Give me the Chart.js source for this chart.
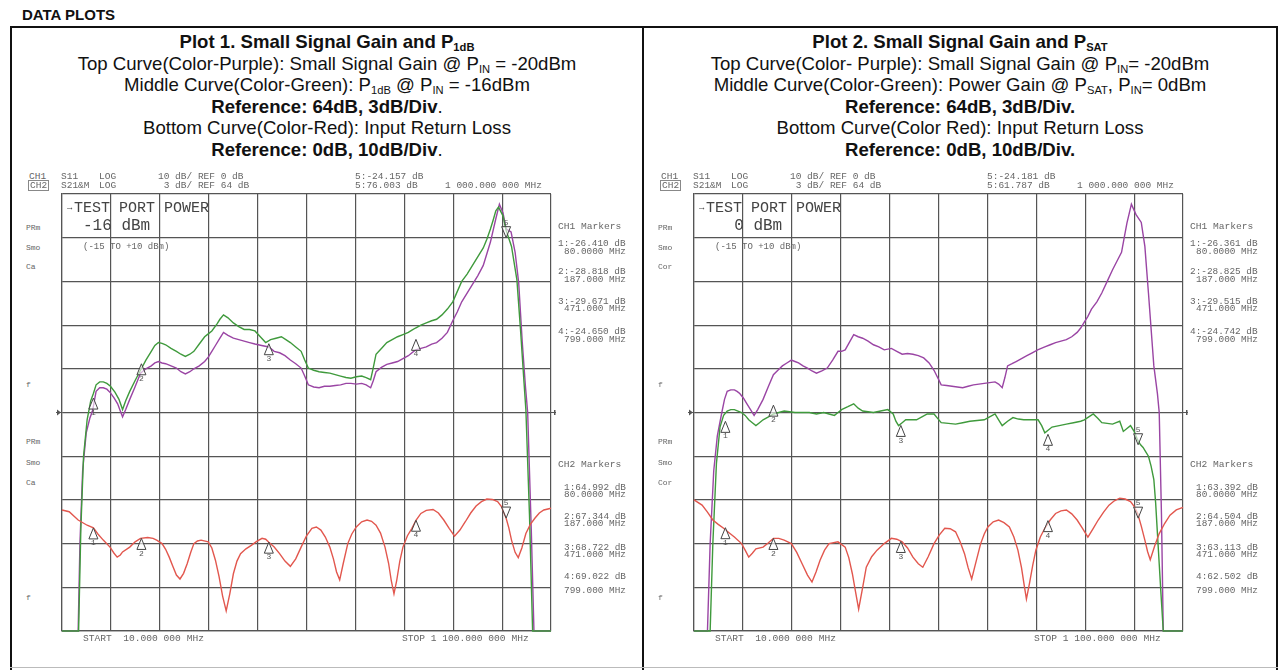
<!DOCTYPE html>
<html lang="en">
<head>
<meta charset="UTF-8" />
<title>Data Plots</title>
<script src="https://cdn.jsdelivr.net/npm/chart.js"></script>
<style>
  body { margin: 0; background: #fff; }
  #page {
    position: relative;
    width: 1280px;
    height: 670px;
    overflow: hidden;
    font-family: 'Liberation Sans', Arial, sans-serif;
    color: #111;
  }
  .abs { position: absolute; white-space: pre; line-height: 1; }
  .mono { font-family: 'Liberation Mono', 'DejaVu Sans Mono', monospace; color: #666; }
  .line { position: absolute; background: #111; }
  .titles {
    position: absolute;
    top: 31px;
    width: 632px;
    text-align: center;
    font-size: 18.6px;
    line-height: 21.5px;
  }
  .titles sub { font-size: 0.6em; line-height: 0; vertical-align: -0.25em; }
  canvas { position: absolute; }
</style>
</head>
<body>
<div id="page">
  <div class="abs" style="left:22px; top:7px; font-size:15px; font-weight:bold;">DATA PLOTS</div>

  <div class="line" style="left:10px; top:26px; width:1268px; height:2px;"></div>
  <div class="line" style="left:10px; top:26px; width:2px; height:644px;"></div>
  <div class="line" style="left:642px; top:26px; width:2px; height:644px;"></div>
  <div class="line" style="left:1276px; top:26px; width:2px; height:644px;"></div>
  <div class="line" style="left:10px; top:667px; width:1268px; height:1px; background:#bbb;"></div>

  <div class="titles" style="left:11px;">
    <b>Plot 1. Small Signal Gain and P<sub>1dB</sub></b><br>
    Top Curve(Color-Purple): Small Signal Gain @ P<sub>IN</sub> = -20dBm<br>
    Middle Curve(Color-Green): P<sub>1dB</sub> @ P<sub>IN</sub> = -16dBm<br>
    <b>Reference: 64dB, 3dB/Div</b>.<br>
    Bottom Curve(Color-Red): Input Return Loss<br>
    <b>Reference: 0dB, 10dB/Div</b>.
  </div>
  <div class="titles" style="left:644px;">
    <b>Plot 2. Small Signal Gain and P<sub>SAT</sub></b><br>
    Top Curve(Color- Purple): Small Signal Gain @ P<sub>IN</sub>= -20dBm<br>
    Middle Curve(Color-Green): Power Gain @ P<sub>SAT</sub>, P<sub>IN</sub>= 0dBm<br>
    <b>Reference: 64dB, 3dB/Div.</b><br>
    Bottom Curve(Color Red): Input Return Loss<br>
    <b>Reference: 0dB, 10dB/Div.</b>
  </div>

  <canvas id="plot1" width="509" height="457" style="left:52px; top:184px;"></canvas>
  <canvas id="plot2" width="509" height="457" style="left:684px; top:184px;"></canvas>
</div>

<script>
// sweep 10 MHz .. 1100 MHz, 10 divisions
var freqStart = 10;
var freqStop = 1100;
var freqStep = 109;
// S21: ref 64 dB at centre, 3 dB/div ; S11: ref 0 dB at centre, 10 dB/div
var gainMin = 49, gainMax = 79, gainStep = 3, gainRef = 64;
var rlMin = -50, rlMax = 50;

var markerFreqs = [80, 187, 471, 799, 1000];
var markerFreqLabels = ["80.0000 MHz", "187.000 MHz", "471.000 MHz", "799.000 MHz"];

var plot1GainMarkers = [64.992, 67.344, 68.722, 69.022, 76.003];
var plot1RlMarkers = [-26.410, -28.818, -29.671, -24.650, -24.157];
var plot2GainMarkers = [63.392, 64.504, 63.113, 62.502, 61.787];
var plot2RlMarkers = [-26.361, -28.825, -29.515, -24.742, -24.181];

// [MHz, dB]
var plot1Gain = [[10,49],[46,49],[50,55],[56,60],[64,62.6],[72,63.6],[78,64.1],[86,65.45],[94,65.7],[102,65.7],[110,65.6],[118,65.35],[126,65.0],[134,64.6],[140,64.1],[145,63.7],[152,64.2],[161,64.9],[172,65.7],[185,66.7],[197,67.0],[209,67.2],[217,67.4],[225,67.5],[233,67.4],[241,67.35],[253,67.2],[265,67.05],[275,66.8],[285,66.65],[295,66.8],[304,67.0],[316,67.2],[328,67.5],[336,67.8],[344,68.2],[352,68.6],[362,69.1],[370,69.5],[380,69.3],[392,69.1],[404,69.0],[416,68.9],[428,68.8],[440,68.7],[455,68.6],[471,68.5],[483,68.2],[495,68.1],[507,67.9],[519,67.6],[531,67.35],[543,67.05],[551,66.5],[559,65.9],[571,65.75],[583,65.7],[595,65.8],[607,65.8],[619,65.85],[631,65.9],[643,66.0],[654,66.0],[666,65.95],[678,66.0],[688,65.9],[698,65.7],[704,66.2],[710,66.8],[722,67.1],[734,67.3],[746,67.4],[758,67.5],[770,67.7],[782,67.9],[798,68.3],[810,68.4],[822,68.5],[834,68.7],[845,68.8],[857,69.1],[869,69.5],[881,70.3],[891,70.9],[901,71.6],[913,72.2],[925,72.8],[937,73.4],[949,74.1],[957,74.9],[965,75.7],[971,76.5],[977,77.3],[985,78.3],[993,77.7],[1000,76.6],[1011,76.4],[1020,75.0],[1028,72.9],[1036,68.8],[1043,65.8],[1048,64.0],[1056,56],[1062,49],[1100,49]];

var plot1P1dB = [[10,49],[47,49],[52,56],[58,61],[66,63.5],[74,64.8],[80,65.3],[86,65.9],[94,66.1],[102,66.1],[110,66.0],[118,65.8],[128,65.4],[137,64.9],[145,64.2],[152,64.8],[161,65.45],[173,66.2],[185,66.9],[197,67.6],[209,68.2],[217,68.6],[225,68.8],[233,68.75],[241,68.65],[253,68.4],[265,68.2],[275,68.0],[285,67.85],[295,68.0],[304,68.2],[316,68.7],[328,69.2],[336,69.4],[344,69.6],[356,70.1],[362,70.4],[370,70.7],[380,70.5],[392,70.15],[404,69.9],[416,69.7],[428,69.7],[440,69.6],[452,69.2],[464,68.8],[475,69.0],[487,69.1],[499,69.2],[509,69.0],[519,68.8],[531,68.5],[543,68.2],[551,67.6],[559,67.05],[571,66.9],[583,66.8],[595,66.75],[607,66.7],[619,66.6],[631,66.5],[643,66.4],[654,66.35],[666,66.45],[678,66.5],[688,66.4],[698,66.25],[704,67.1],[710,68.0],[722,68.4],[734,68.8],[746,69.0],[758,69.2],[770,69.35],[782,69.5],[790,69.65],[798,69.8],[810,70.0],[822,70.15],[834,70.3],[845,70.4],[857,70.7],[869,71.1],[881,71.6],[891,72.3],[901,73.0],[913,73.5],[925,74.1],[937,74.7],[949,75.3],[957,75.9],[965,76.6],[971,77.2],[977,77.85],[983,78.1],[993,77.5],[1000,76.5],[1012,75.4],[1024,73.1],[1032,69.7],[1040,66.0],[1044,64.2],[1052,57],[1059,49],[1100,49]];

var plot1Rl = [[10,-22.3],[26,-22.7],[46,-24.6],[66,-25.8],[80,-26.4],[90,-27.8],[102,-29.2],[117,-30.8],[126,-32.2],[133,-33.1],[140,-32.6],[145,-31.9],[161,-30.8],[173,-29.6],[185,-28.8],[201,-28.6],[213,-28.8],[221,-29.2],[233,-30.0],[241,-31.3],[249,-33.1],[257,-35.2],[265,-37.2],[273,-38.1],[281,-36.8],[289,-34.6],[297,-32.0],[304,-30.0],[312,-29.4],[320,-29.2],[336,-29.6],[344,-31.0],[352,-33.8],[360,-37.5],[368,-42.0],[376,-45.4],[384,-41.5],[392,-36.9],[400,-34.0],[408,-32.3],[420,-31.2],[432,-30.4],[444,-29.5],[456,-28.8],[464,-29.0],[471,-29.7],[483,-30.8],[495,-32.3],[507,-34.0],[519,-35.2],[531,-33.5],[543,-30.8],[555,-28.2],[567,-26.5],[577,-26.2],[587,-26.9],[597,-28.5],[607,-30.8],[615,-33.5],[622,-36.5],[629,-38.3],[637,-34.5],[647,-30.0],[656,-27.8],[666,-26.2],[678,-25.0],[690,-24.6],[700,-24.9],[710,-25.8],[720,-27.6],[730,-30.8],[738,-34.5],[744,-38.5],[750,-41.5],[756,-38.5],[763,-34.0],[770,-30.8],[780,-28.2],[790,-26.5],[799,-24.7],[810,-23.1],[822,-22.4],[837,-22.2],[849,-23.0],[861,-24.6],[873,-26.5],[885,-28.3],[897,-26.9],[909,-25.0],[921,-23.0],[933,-21.4],[945,-20.4],[957,-19.8],[969,-19.9],[981,-20.4],[990,-21.6],[1000,-24.2],[1006,-26.4],[1012,-29.2],[1020,-32.0],[1027,-33.2],[1035,-31.0],[1044,-27.7],[1054,-25.6],[1064,-24.2],[1074,-23.0],[1084,-22.3],[1100,-21.9]];

var plot2Gain = [[10,49],[40,49],[46,55],[54,60],[62,62.4],[72,64.0],[78,64.9],[84,65.45],[92,65.55],[100,65.55],[106,65.45],[112,65.3],[120,65.0],[128,64.6],[136,64.2],[144,63.8],[152,64.2],[164,64.9],[176,65.8],[187,66.6],[197,66.9],[207,67.2],[217,67.4],[227,67.6],[235,67.5],[243,67.4],[253,67.2],[263,67.05],[273,66.85],[283,66.7],[295,66.85],[307,67.05],[319,67.6],[331,68.2],[339,68.2],[347,68.3],[356,68.8],[366,69.35],[376,69.2],[386,69.1],[398,68.9],[410,68.65],[422,68.5],[434,68.3],[450,68.4],[462,68.2],[474,68.0],[486,68.05],[498,68.0],[510,67.9],[522,67.75],[534,67.4],[545,66.9],[553,66.4],[561,65.9],[573,65.85],[585,65.8],[597,65.75],[609,65.7],[621,65.8],[633,65.9],[645,65.95],[657,66.0],[669,66.05],[681,66.1],[689,65.95],[697,65.7],[703,66.4],[709,67.2],[719,67.35],[728,67.5],[740,67.7],[752,67.9],[764,68.1],[776,68.3],[792,68.5],[804,68.65],[816,68.8],[828,68.9],[840,69.0],[852,69.2],[864,69.5],[872,69.8],[880,70.2],[888,70.6],[896,71.1],[908,71.6],[919,72.2],[931,73.0],[943,73.8],[953,74.4],[963,75.0],[969,76.0],[975,77.0],[985,78.3],[995,77.6],[1007,77.05],[1015,75.4],[1023,72.2],[1035,67.2],[1043,65.3],[1047,64.0],[1052,57],[1056,49],[1100,49]];

var plot2Psat = [[10,49],[46,49],[52,55],[60,60.5],[68,63.0],[76,63.8],[84,64.1],[92,64.2],[100,64.2],[108,64.1],[116,64.0],[124,63.8],[132,63.5],[140,63.3],[148,63.1],[156,63.3],[164,63.5],[176,63.7],[187,63.9],[199,64.0],[211,64.1],[223,64.05],[235,64.0],[251,64.0],[267,64.0],[283,63.9],[299,64.0],[311,63.9],[323,63.8],[331,64.0],[339,64.2],[353,64.4],[366,64.6],[376,64.3],[386,64.1],[398,64.05],[410,64.0],[426,64.1],[442,64.2],[454,63.9],[460,63.4],[466,63.1],[474,63.3],[482,63.5],[494,63.5],[506,63.5],[518,63.7],[530,63.9],[545,63.9],[553,63.6],[561,63.3],[577,63.25],[593,63.2],[609,63.3],[625,63.4],[641,63.45],[657,63.5],[669,63.7],[681,63.9],[689,63.5],[697,63.1],[709,63.4],[721,63.65],[733,63.55],[745,63.5],[761,63.5],[777,63.5],[785,63.1],[792,62.6],[800,62.8],[808,63.0],[824,63.1],[840,63.2],[856,63.3],[872,63.4],[880,63.5],[890,63.7],[900,63.9],[910,63.6],[919,63.3],[931,63.25],[943,63.2],[951,63.3],[959,63.4],[967,62.7],[975,62.9],[983,63.1],[991,62.7],[999,62.1],[1005,61.8],[1011,61.6],[1017,61.3],[1023,61.0],[1029,60.3],[1035,59.4],[1039,57.8],[1043,55.7],[1047,53.6],[1051,51.5],[1056,49],[1100,49]];

var plot2Rl = [[10,-20.0],[28,-21.2],[40,-22.8],[52,-24.6],[64,-25.6],[76,-26.5],[88,-27.5],[100,-28.5],[116,-30.0],[124,-31.5],[132,-33.1],[140,-32.2],[148,-31.2],[164,-30.8],[176,-29.8],[187,-28.8],[199,-28.8],[211,-29.2],[227,-30.0],[239,-32.0],[251,-34.6],[263,-37.2],[273,-38.8],[282,-36.5],[291,-33.8],[301,-31.5],[311,-30.0],[331,-29.6],[347,-30.8],[355,-33.2],[363,-36.9],[370,-41.0],[377,-45.0],[386,-40.0],[394,-35.4],[406,-33.0],[418,-31.5],[434,-30.0],[450,-28.8],[462,-29.0],[474,-29.6],[486,-31.0],[498,-33.1],[510,-34.6],[520,-35.4],[532,-33.0],[545,-30.0],[557,-28.0],[569,-26.5],[581,-26.6],[593,-27.3],[603,-29.5],[613,-32.3],[621,-35.5],[629,-38.1],[639,-34.0],[649,-30.0],[657,-27.8],[665,-26.2],[677,-25.0],[689,-24.6],[701,-25.2],[713,-26.2],[723,-28.5],[732,-31.5],[740,-35.5],[746,-39.5],[751,-42.7],[758,-39.0],[765,-35.0],[772,-31.5],[782,-28.5],[792,-26.5],[804,-24.6],[816,-23.1],[828,-22.5],[840,-22.3],[852,-23.2],[864,-24.6],[876,-26.5],[888,-28.5],[900,-26.5],[911,-24.6],[923,-22.8],[935,-21.2],[947,-20.2],[959,-19.6],[971,-19.8],[983,-20.4],[991,-21.5],[999,-23.1],[1007,-26.0],[1015,-29.2],[1021,-31.8],[1027,-33.7],[1037,-30.5],[1047,-27.7],[1059,-25.4],[1071,-23.5],[1085,-22.3],[1100,-21.7]];

var purple = "#9a45a4";
var green = "#3f9a3c";
var red = "#e2574e";
var gridColor = "#555";

function pts(arr) {
  return arr.map(function (p) { return { x: p[0], y: p[1] }; });
}

// triangles + numbers at the marker readouts, and the reference-position arrows
var vnaPlugin = {
  id: "vna",
  afterDatasetsDraw: function (chart, args, opts) {
    var ctx = chart.ctx;
    var xs = chart.scales.x, gs = chart.scales.yGain, rs = chart.scales.yRL;
    var a = chart.chartArea;
    var yc = gs.getPixelForValue(gainRef);

    ctx.save();
    ctx.strokeStyle = gridColor;
    ctx.fillStyle = gridColor;
    ctx.lineWidth = 1.2;
    ctx.beginPath();
    ctx.moveTo(a.left - 6, yc); ctx.lineTo(a.left, yc);
    ctx.moveTo(a.right, yc); ctx.lineTo(a.right + 5, yc);
    ctx.stroke();
    ctx.beginPath();
    ctx.moveTo(a.left - 5, yc - 3); ctx.lineTo(a.left - 1, yc); ctx.lineTo(a.left - 5, yc + 3);
    ctx.fill();
    ctx.fillRect(a.right + 3, yc - 2.5, 1.5, 5);

    function tri(px, py, down, label) {
      var h = 11, w = 4.5;
      var base = down ? py - h : py + h;
      ctx.beginPath();
      ctx.moveTo(px, py);
      ctx.lineTo(px - w, base);
      ctx.lineTo(px + w, base);
      ctx.closePath();
      ctx.fillStyle = "rgba(255,255,255,0.6)";
      ctx.fill();
      ctx.strokeStyle = "#444";
      ctx.lineWidth = 1;
      ctx.stroke();
      ctx.fillStyle = "#555";
      ctx.font = "8px 'Liberation Mono', monospace";
      ctx.textAlign = "center";
      ctx.textBaseline = "middle";
      ctx.fillText(label, px, down ? base - 4 : base + 4);
    }

    markerFreqs.forEach(function (f, i) {
      var px = xs.getPixelForValue(f);
      tri(px, gs.getPixelForValue(opts.gain[i]), i === 4, String(i + 1));
      tri(px, rs.getPixelForValue(opts.rl[i]), i === 4, String(i + 1));
    });
    ctx.restore();
  }
};

function makeChart(id, top, middle, rl, gainMarks, rlMarks) {
  var ctx = document.getElementById(id).getContext("2d");
  var gridOpts = { color: gridColor, lineWidth: 1.2, drawTicks: false };
  return new Chart(ctx, {
    type: "line",
    data: {
      datasets: [
        { data: pts(rl), yAxisID: "yRL", borderColor: red, borderWidth: 1.4 },
        { data: pts(middle), yAxisID: "yGain", borderColor: green, borderWidth: 1.4 },
        { data: pts(top), yAxisID: "yGain", borderColor: purple, borderWidth: 1.4 }
      ]
    },
    options: {
      responsive: false,
      animation: false,
      layout: { padding: 10 },
      elements: { point: { radius: 0 }, line: { tension: 0 } },
      datasets: { line: { clip: 3 } },
      plugins: {
        legend: { display: false },
        tooltip: { enabled: false },
        vna: { gain: gainMarks, rl: rlMarks }
      },
      scales: {
        x: {
          type: "linear", min: freqStart, max: freqStop,
          ticks: { display: false, stepSize: freqStep },
          grid: gridOpts,
          border: { color: gridColor, width: 1.2 }
        },
        yGain: {
          type: "linear", position: "left", min: gainMin, max: gainMax,
          ticks: { display: false, stepSize: gainStep },
          grid: gridOpts,
          border: { color: gridColor, width: 1.2 }
        },
        yRL: { type: "linear", position: "right", min: rlMin, max: rlMax, display: false }
      }
    },
    plugins: [vnaPlugin]
  });
}

makeChart("plot1", plot1Gain, plot1P1dB, plot1Rl, plot1GainMarkers, plot1RlMarkers);
makeChart("plot2", plot2Gain, plot2Psat, plot2Rl, plot2GainMarkers, plot2RlMarkers);

// analyzer screen annotations
var page = document.getElementById("page");
function txt(x, y, s, size, extra) {
  var el = document.createElement("div");
  el.className = "abs mono";
  el.style.left = x + "px";
  el.style.top = (y - size / 2) + "px";
  el.style.fontSize = size + "px";
  if (extra) el.style.cssText += extra;
  el.textContent = s;
  page.appendChild(el);
  return el;
}

function panel(dx, power, calLabel, gainMarks, rlMarks) {
  txt(dx + 29, 177, "CH1", 9.5);
  txt(dx + 61, 177, "S11", 9.5);
  txt(dx + 99, 177, "LOG", 9.5);
  txt(dx + 158, 177, "10 dB/ REF 0 dB", 9.5);
  txt(dx + 355, 177, "5:" + rlMarks[4].toFixed(3) + " dB", 9.5);
  txt(dx + 28, 185.5, "CH2", 9.5, "border:1px solid #888; padding:0 1px; margin-top:-1px;");
  txt(dx + 61, 185.5, "S21&M", 9.5);
  txt(dx + 99, 185.5, "LOG", 9.5);
  txt(dx + 158, 185.5, " 3 dB/ REF 64 dB", 9.5);
  txt(dx + 355, 185.5, "5:" + gainMarks[4].toFixed(3) + " dB", 9.5);
  txt(dx + 445, 185.5, "1 000.000 000 MHz", 9.5);

  [[228, "PRm"], [248, "Smo"], [267, calLabel], [385, "f"],
   [442, "PRm"], [463, "Smo"], [483, calLabel], [598, "f"]].forEach(function (r) {
    txt(dx + 26, r[0], r[1], 8);
  });

  txt(dx + 67, 208, "\u2192", 9, "color:#444;");
  txt(dx + 74, 208, "TEST PORT POWER", 15, "color:#444;");
  txt(dx + 83, 226, power, 16, "color:#444;");
  txt(dx + 83, 247, "(-15 TO +10 dBm)", 9);

  txt(dx + 83, 639, "START  10.000 000 MHz", 9.6);
  txt(dx + 402, 639, "STOP 1 100.000 000 MHz", 9.6);

  var ch1Rows = [[244, 252], [272, 280], [302, 309], [332, 340]];
  var ch2Rows = [[488, 495], [517, 524], [548, 555], [577, 591]];
  txt(dx + 558, 227, "CH1 Markers", 9.6);
  txt(dx + 558, 465, "CH2 Markers", 9.6);
  for (var i = 0; i < 4; i++) {
    txt(dx + 558, ch1Rows[i][0], (i + 1) + ":" + rlMarks[i].toFixed(3) + " dB", 9.4);
    txt(dx + 564, ch1Rows[i][1], markerFreqLabels[i], 9.4);
    txt(dx + 564, ch2Rows[i][0], (i + 1) + ":" + gainMarks[i].toFixed(3) + " dB", 9.4);
    txt(dx + 564, ch2Rows[i][1], markerFreqLabels[i], 9.4);
  }
}

panel(0, "-16 dBm", "Ca", plot1GainMarkers, plot1RlMarkers);
panel(632, "  0 dBm", "Cor", plot2GainMarkers, plot2RlMarkers);
</script>
</body>
</html>
